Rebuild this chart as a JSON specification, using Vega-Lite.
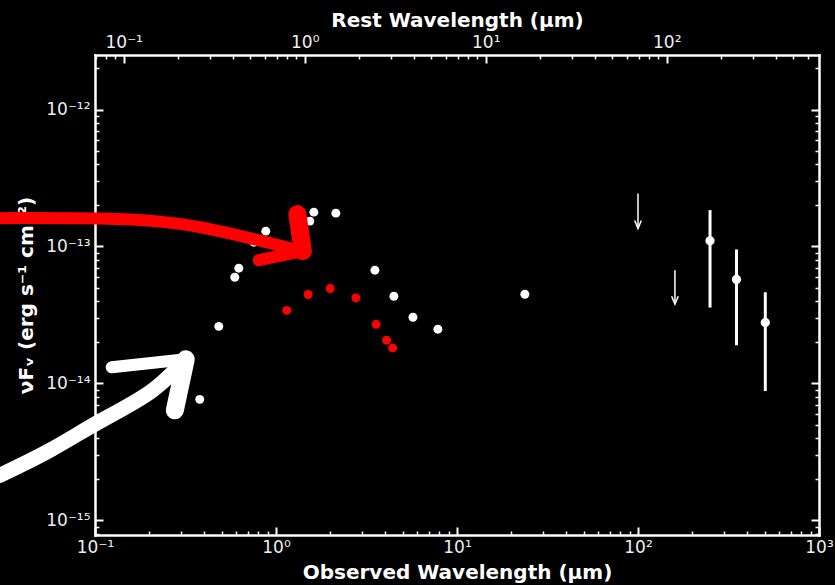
{
  "$schema": "https://vega.github.io/schema/vega-lite/v6.json",
  "width": 724,
  "height": 480,
  "autosize": {"type": "none"},
  "padding": {"left": 95, "top": 55, "right": 16, "bottom": 51},
  "background": "#000000",
  "config": {
    "view": {"stroke": null},
    "axis": {
      "domainColor": "#ffffff", "domainWidth": 2.5, "domainCap": "square",
      "tickColor": "#ffffff", "tickWidth": 2,
      "labelColor": "#eeeeee", "labelFont": "DejaVu Sans", "labelFontSize": 17,
      "titleColor": "#ffffff", "titleFont": "DejaVu Sans", "titleFontWeight": "bold", "titleFontSize": 20,
      "grid": false, "labelFlush": false, "labelOverlap": false
    }
  },
  "datasets": {
    "white": [
      {"x": 0.379, "y": 7.65e-15}, {"x": 0.483, "y": 2.61e-14}, {"x": 0.592, "y": 5.96e-14},
      {"x": 0.623, "y": 6.94e-14}, {"x": 0.754, "y": 1.075e-13}, {"x": 0.878, "y": 1.294e-13},
      {"x": 1.538, "y": 1.531e-13}, {"x": 1.618, "y": 1.781e-13}, {"x": 2.141, "y": 1.751e-13},
      {"x": 3.52, "y": 6.71e-14}, {"x": 4.48, "y": 4.33e-14}, {"x": 5.71, "y": 3.04e-14},
      {"x": 7.84, "y": 2.49e-14}, {"x": 23.7, "y": 4.48e-14}
    ],
    "err": [
      {"x": 250, "y": 1.099e-13, "lo": 3.58e-14, "hi": 1.842e-13},
      {"x": 350, "y": 5.74e-14, "lo": 1.90e-14, "hi": 9.51e-14},
      {"x": 505, "y": 2.78e-14, "lo": 8.80e-15, "hi": 4.63e-14}
    ],
    "ul": [
      {"x": 100, "top": 2.44e-13, "tip": 1.354e-13},
      {"x": 160, "top": 6.71e-14, "tip": 3.79e-14}
    ],
    "red": [
      {"x": 1.147, "y": 3.41e-14}, {"x": 1.505, "y": 4.46e-14}, {"x": 1.991, "y": 4.93e-14},
      {"x": 2.762, "y": 4.21e-14}, {"x": 3.576, "y": 2.70e-14}, {"x": 4.08, "y": 2.065e-14},
      {"x": 4.41, "y": 1.815e-14}
    ],
    "arrows": [
      {"seg": "red_shaft", "x": 0.02972, "y": 1.61e-13},
      {"seg": "red_shaft", "x": 0.1062, "y": 1.597e-13},
      {"seg": "red_shaft", "x": 0.2279, "y": 1.518e-13},
      {"seg": "red_shaft", "x": 0.379, "y": 1.384e-13},
      {"seg": "red_shaft", "x": 0.7164, "y": 1.15e-13},
      {"seg": "red_shaft", "x": 1.192, "y": 9.72e-14},
      {"seg": "red_shaft", "x": 1.407, "y": 9.24e-14},
      {"seg": "red_up", "x": 1.407, "y": 9.24e-14},
      {"seg": "red_up", "x": 1.312, "y": 1.722e-13},
      {"seg": "red_low", "x": 1.407, "y": 9.24e-14},
      {"seg": "red_low", "x": 0.8034, "y": 7.94e-14},
      {"seg": "white_shaft", "x": 0.02972, "y": 2.13e-15},
      {"seg": "white_shaft", "x": 0.0562, "y": 3.243e-15},
      {"seg": "white_shaft", "x": 0.1062, "y": 5.28e-15},
      {"seg": "white_shaft", "x": 0.2006, "y": 8.61e-15},
      {"seg": "white_shaft", "x": 0.3172, "y": 1.50e-14},
      {"seg": "white_up", "x": 0.3172, "y": 1.50e-14},
      {"seg": "white_up", "x": 0.1237, "y": 1.311e-14},
      {"seg": "white_low", "x": 0.3172, "y": 1.50e-14},
      {"seg": "white_low", "x": 0.2760, "y": 6.36e-15}
    ]
  },
  "resolve": {"scale": {"x": "independent"}, "axis": {"x": "independent", "y": "independent"}},
  "layer": [
    {
      "resolve": {"axis": {"x": "independent", "y": "independent"}},
      "layer": [
        {
          "data": {"name": "white"},
          "mark": {"type": "circle", "size": 80, "color": "#ffffff", "opacity": 1},
          "encoding": {
            "x": {"field": "x", "type": "quantitative", "scale": {"type": "log", "domain": [0.1, 1000], "nice": false},
              "axis": {"orient": "bottom", "values": [0.1, 1, 10, 100, 1000], "tickSize": -8, "labelPadding": 12,
                "labelExpr": "datum.value < 0.5 ? '10⁻¹' : datum.value < 5 ? '10⁰' : datum.value < 50 ? '10¹' : datum.value < 500 ? '10²' : '10³'",
                "title": "Observed Wavelength (μm)", "titlePadding": 7}},
            "y": {"field": "y", "type": "quantitative", "scale": {"type": "log", "domain": [7.82e-16, 2.5e-12], "nice": false},
              "axis": {"orient": "left", "values": [1e-15, 1e-14, 1e-13, 1e-12], "tickSize": -8, "labelPadding": 13,
                "labelExpr": "datum.value > 5e-13 ? '10⁻¹²' : datum.value > 5e-14 ? '10⁻¹³' : datum.value > 5e-15 ? '10⁻¹⁴' : '10⁻¹⁵'",
                "title": "νFᵥ (erg s⁻¹ cm⁻²)", "titlePadding": 9}}
          }
        },
        {
          "data": {"name": "err"},
          "mark": {"type": "rule", "color": "#ffffff", "strokeWidth": 3},
          "encoding": {
            "x": {"field": "x", "type": "quantitative", "scale": {"type": "log", "domain": [0.1, 1000], "nice": false}, "axis": null},
            "y": {"field": "lo", "type": "quantitative", "scale": {"type": "log", "domain": [7.82e-16, 2.5e-12], "nice": false}, "axis": null},
            "y2": {"field": "hi"}
          }
        },
        {
          "data": {"name": "err"},
          "mark": {"type": "circle", "size": 85, "color": "#ffffff", "opacity": 1},
          "encoding": {
            "x": {"field": "x", "type": "quantitative", "scale": {"type": "log", "domain": [0.1, 1000], "nice": false}, "axis": null},
            "y": {"field": "y", "type": "quantitative", "scale": {"type": "log", "domain": [7.82e-16, 2.5e-12], "nice": false}, "axis": null}
          }
        },
        {
          "data": {"name": "ul"},
          "mark": {"type": "rule", "color": "#ffffff", "strokeWidth": 1.5},
          "encoding": {
            "x": {"field": "x", "type": "quantitative", "scale": {"type": "log", "domain": [0.1, 1000], "nice": false}, "axis": null},
            "y": {"field": "top", "type": "quantitative", "scale": {"type": "log", "domain": [7.82e-16, 2.5e-12], "nice": false}, "axis": null},
            "y2": {"field": "tip"}
          }
        },
        {
          "data": {"name": "ul"},
          "mark": {"type": "point", "shape": "M-1,-2.4L0,0L1,-2.4", "size": 44, "filled": false, "stroke": "#ffffff", "strokeWidth": 1.5, "opacity": 1},
          "encoding": {
            "x": {"field": "x", "type": "quantitative", "scale": {"type": "log", "domain": [0.1, 1000], "nice": false}, "axis": null},
            "y": {"field": "tip", "type": "quantitative", "scale": {"type": "log", "domain": [7.82e-16, 2.5e-12], "nice": false}, "axis": null}
          }
        },
        {
          "data": {"name": "red"},
          "mark": {"type": "circle", "size": 80, "color": "#ff0000", "opacity": 1},
          "encoding": {
            "x": {"field": "x", "type": "quantitative", "scale": {"type": "log", "domain": [0.1, 1000], "nice": false}, "axis": null},
            "y": {"field": "y", "type": "quantitative", "scale": {"type": "log", "domain": [7.82e-16, 2.5e-12], "nice": false}, "axis": null}
          }
        },
        {
          "data": {"name": "arrows"},
          "transform": [{"filter": "datum.seg == 'red_shaft'"}],
          "mark": {"type": "line", "color": "#ff0000", "strokeWidth": 12, "strokeCap": "round", "strokeJoin": "round", "interpolate": "natural"},
          "encoding": {
            "x": {"field": "x", "type": "quantitative", "scale": {"type": "log", "domain": [0.1, 1000], "nice": false}, "axis": null},
            "y": {"field": "y", "type": "quantitative", "scale": {"type": "log", "domain": [7.82e-16, 2.5e-12], "nice": false}, "axis": null}
          }
        },
        {
          "data": {"name": "arrows"},
          "transform": [{"filter": "datum.seg == 'red_up'"}],
          "mark": {"type": "line", "color": "#ff0000", "strokeWidth": 18, "strokeCap": "round", "strokeJoin": "round"},
          "encoding": {
            "x": {"field": "x", "type": "quantitative", "scale": {"type": "log", "domain": [0.1, 1000], "nice": false}, "axis": null},
            "y": {"field": "y", "type": "quantitative", "scale": {"type": "log", "domain": [7.82e-16, 2.5e-12], "nice": false}, "axis": null}
          }
        },
        {
          "data": {"name": "arrows"},
          "transform": [{"filter": "datum.seg == 'red_low'"}],
          "mark": {"type": "line", "color": "#ff0000", "strokeWidth": 12, "strokeCap": "round", "strokeJoin": "round"},
          "encoding": {
            "x": {"field": "x", "type": "quantitative", "scale": {"type": "log", "domain": [0.1, 1000], "nice": false}, "axis": null},
            "y": {"field": "y", "type": "quantitative", "scale": {"type": "log", "domain": [7.82e-16, 2.5e-12], "nice": false}, "axis": null}
          }
        },
        {
          "data": {"name": "arrows"},
          "transform": [{"filter": "datum.seg == 'white_shaft'"}],
          "mark": {"type": "line", "color": "#ffffff", "strokeWidth": 15, "strokeCap": "round", "strokeJoin": "round", "interpolate": "natural"},
          "encoding": {
            "x": {"field": "x", "type": "quantitative", "scale": {"type": "log", "domain": [0.1, 1000], "nice": false}, "axis": null},
            "y": {"field": "y", "type": "quantitative", "scale": {"type": "log", "domain": [7.82e-16, 2.5e-12], "nice": false}, "axis": null}
          }
        },
        {
          "data": {"name": "arrows"},
          "transform": [{"filter": "datum.seg == 'white_up'"}],
          "mark": {"type": "line", "color": "#ffffff", "strokeWidth": 12, "strokeCap": "round", "strokeJoin": "round"},
          "encoding": {
            "x": {"field": "x", "type": "quantitative", "scale": {"type": "log", "domain": [0.1, 1000], "nice": false}, "axis": null},
            "y": {"field": "y", "type": "quantitative", "scale": {"type": "log", "domain": [7.82e-16, 2.5e-12], "nice": false}, "axis": null}
          }
        },
        {
          "data": {"name": "arrows"},
          "transform": [{"filter": "datum.seg == 'white_low'"}],
          "mark": {"type": "line", "color": "#ffffff", "strokeWidth": 18, "strokeCap": "round", "strokeJoin": "round"},
          "encoding": {
            "x": {"field": "x", "type": "quantitative", "scale": {"type": "log", "domain": [0.1, 1000], "nice": false}, "axis": null},
            "y": {"field": "y", "type": "quantitative", "scale": {"type": "log", "domain": [7.82e-16, 2.5e-12], "nice": false}, "axis": null}
          }
        },
        {
          "data": {"values": [{"x": 1, "y": 1e-13}]},
          "mark": {"type": "point", "opacity": 0},
          "encoding": {
            "x": {"field": "x", "type": "quantitative", "scale": {"type": "log", "domain": [0.1, 1000], "nice": false},
              "axis": {"orient": "bottom", "values": [0.2, 0.3, 0.4, 0.5, 0.6, 0.7, 0.8, 0.9, 2, 3, 4, 5, 6, 7, 8, 9, 20, 30, 40, 50, 60, 70, 80, 90, 200, 300, 400, 500, 600, 700, 800, 900],
                "tickSize": -4, "tickWidth": 1.5, "labels": false, "domain": false, "title": null}}
          }
        },
        {
          "data": {"values": [{"x": 1, "y": 1e-13}]},
          "mark": {"type": "point", "opacity": 0},
          "encoding": {
            "y": {"field": "y", "type": "quantitative", "scale": {"type": "log", "domain": [7.82e-16, 2.5e-12], "nice": false},
              "axis": {"orient": "left", "values": [8e-16, 9e-16, 2e-15, 3e-15, 4e-15, 5e-15, 6e-15, 7e-15, 8e-15, 9e-15, 2e-14, 3e-14, 4e-14, 5e-14, 6e-14, 7e-14, 8e-14, 9e-14, 2e-13, 3e-13, 4e-13, 5e-13, 6e-13, 7e-13, 8e-13, 9e-13, 2e-12],
                "tickSize": -4, "tickWidth": 1.5, "labels": false, "domain": false, "title": null}}
          }
        },
        {
          "data": {"values": [{"x": 1, "y": 1e-13}]},
          "mark": {"type": "point", "opacity": 0},
          "encoding": {
            "y": {"field": "y", "type": "quantitative", "scale": {"type": "log", "domain": [7.82e-16, 2.5e-12], "nice": false},
              "axis": {"orient": "right", "values": [1e-15, 1e-14, 1e-13, 1e-12], "tickSize": -8, "labels": false, "domain": true, "title": null}}
          }
        },
        {
          "data": {"values": [{"x": 1, "y": 1e-13}]},
          "mark": {"type": "point", "opacity": 0},
          "encoding": {
            "y": {"field": "y", "type": "quantitative", "scale": {"type": "log", "domain": [7.82e-16, 2.5e-12], "nice": false},
              "axis": {"orient": "right", "values": [8e-16, 9e-16, 2e-15, 3e-15, 4e-15, 5e-15, 6e-15, 7e-15, 8e-15, 9e-15, 2e-14, 3e-14, 4e-14, 5e-14, 6e-14, 7e-14, 8e-14, 9e-14, 2e-13, 3e-13, 4e-13, 5e-13, 6e-13, 7e-13, 8e-13, 9e-13, 2e-12],
                "tickSize": -4, "tickWidth": 1.5, "labels": false, "domain": false, "title": null}}
          }
        }
      ]
    },
    {
      "resolve": {"axis": {"x": "independent"}},
      "layer": [
        {
          "data": {"values": [{"rest": 1}]},
          "mark": {"type": "point", "opacity": 0},
          "encoding": {
            "x": {"field": "rest", "type": "quantitative", "scale": {"type": "log", "domain": [0.0694, 694], "nice": false},
              "axis": {"orient": "top", "values": [0.1, 1, 10, 100], "tickSize": -8, "labelPadding": 12, "domain": true,
                "labelExpr": "datum.value < 0.5 ? '10⁻¹' : datum.value < 5 ? '10⁰' : datum.value < 50 ? '10¹' : '10²'",
                "title": "Rest Wavelength (μm)", "titlePadding": 3}}
          }
        },
        {
          "data": {"values": [{"rest": 1}]},
          "mark": {"type": "point", "opacity": 0},
          "encoding": {
            "x": {"field": "rest", "type": "quantitative", "scale": {"type": "log", "domain": [0.0694, 694], "nice": false},
              "axis": {"orient": "top", "values": [0.07, 0.08, 0.09, 0.2, 0.3, 0.4, 0.5, 0.6, 0.7, 0.8, 0.9, 2, 3, 4, 5, 6, 7, 8, 9, 20, 30, 40, 50, 60, 70, 80, 90, 200, 300, 400, 500, 600],
                "tickSize": -4, "tickWidth": 1.5, "labels": false, "domain": false, "title": null}}
          }
        }
      ]
    }
  ]
}
